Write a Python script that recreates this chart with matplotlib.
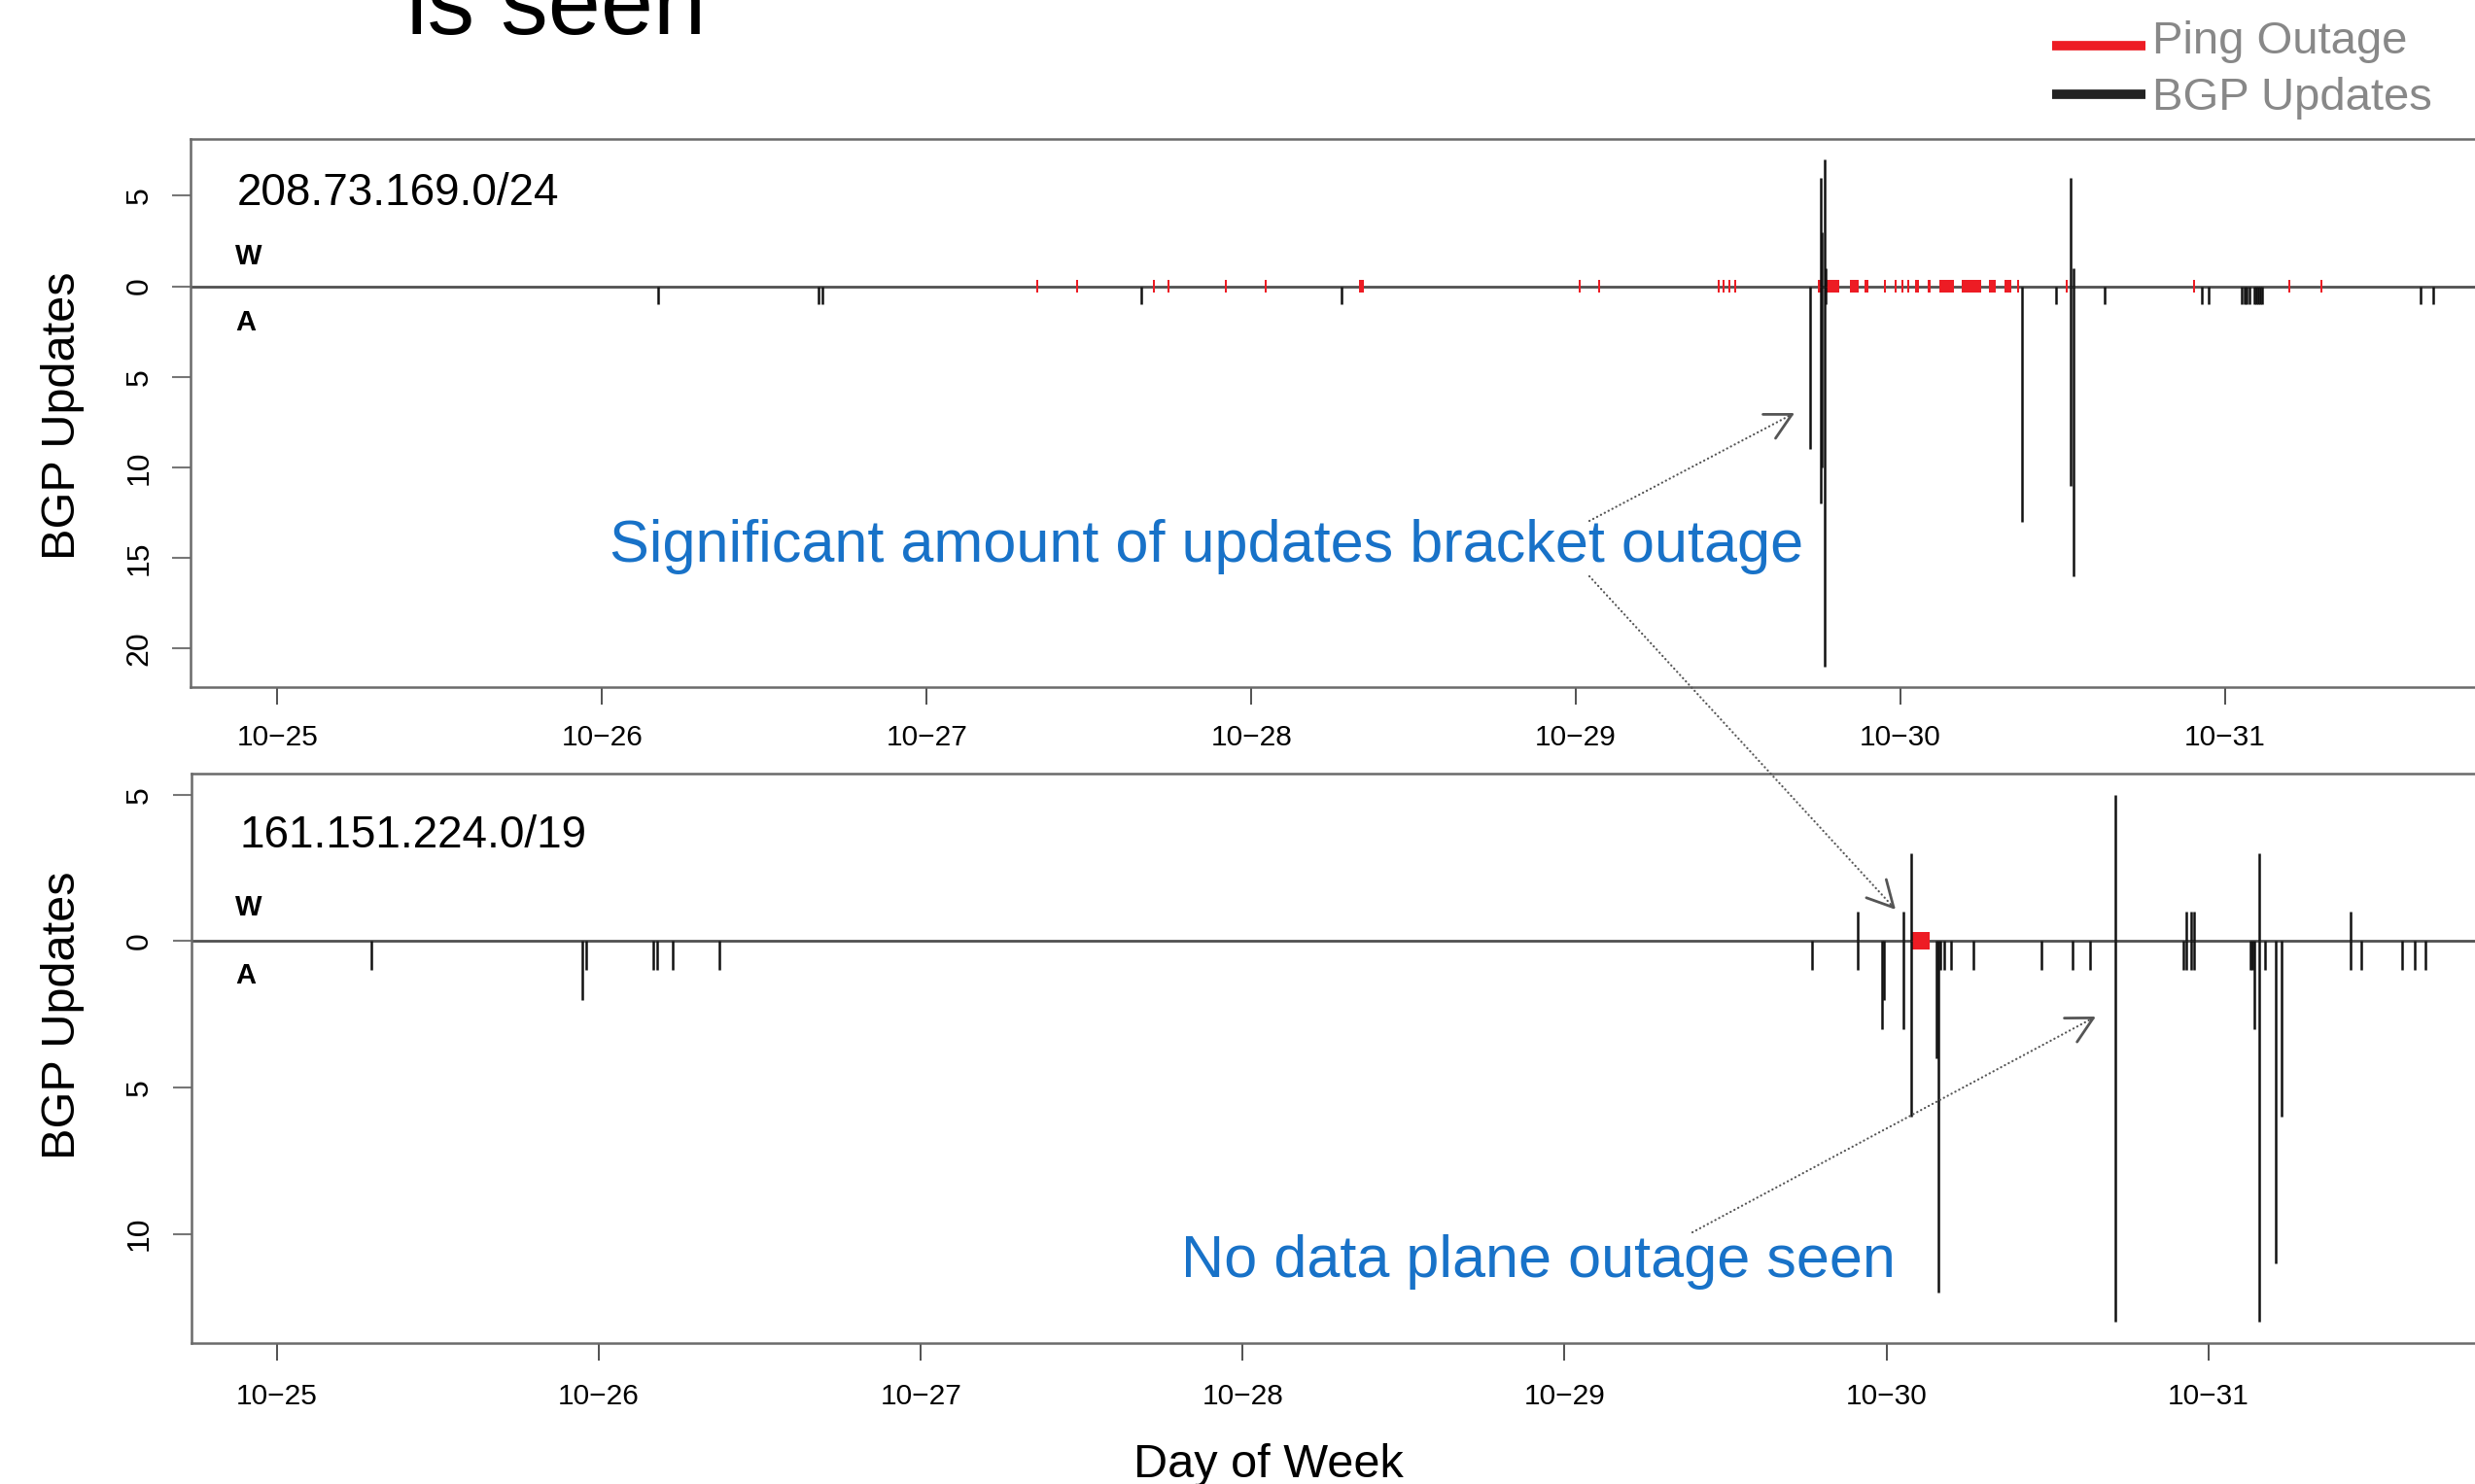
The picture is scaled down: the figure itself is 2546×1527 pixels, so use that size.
import matplotlib
matplotlib.use("Agg")
import matplotlib.pyplot as plt
from matplotlib.lines import Line2D
from matplotlib.patches import FancyArrowPatch
import numpy as np

plt.rcParams['font.family'] = ['Liberation Sans', 'DejaVu Sans']

# ---------------- data (time in days after 10-25 00:00) ----------------
day_ticks = [0, 1, 2, 3, 4, 5, 6]
day_labels = ["10\u221225", "10\u221226", "10\u221227", "10\u221228",
              "10\u221229", "10\u221230", "10\u221231"]

# panel 1 : 208.73.169.0/24
top_prefix = "208.73.169.0/24"
top_times = [1.173, 1.668, 1.680, 2.662, 3.278, 4.722, 4.753, 4.757, 4.765,
             4.769, 5.373, 5.479, 5.524, 5.533, 5.628, 5.928, 5.948, 6.051,
             6.060, 6.067, 6.075, 6.090, 6.096, 6.102, 6.108, 6.114, 6.602,
             6.641]
top_withdrawals = [0, 0, 0, 0, 0, 0, 6, 3, 7, 1, 0, 0, 6, 1, 0, 0, 0, 0,
                   0, 0, 0, 0, 0, 0, 0, 0, 0, 0]
top_announcements = [1, 1, 1, 1, 1, 9, 12, 10, 21, 1, 13, 1, 11, 16, 1, 1,
                     1, 1, 1, 1, 1, 1, 1, 1, 1, 1, 1, 1]
top_outage_start = [2.337, 2.459, 2.697, 2.742, 2.919, 3.041, 3.332, 4.008,
                    4.069, 4.437, 4.452, 4.470, 4.488, 4.745, 4.769, 4.844,
                    4.889, 4.949, 4.982, 5.003, 5.021, 5.044, 5.084, 5.120,
                    5.189, 5.273, 5.320, 5.358, 5.509, 5.901, 6.194, 6.293]
top_outage_dur = [0.007, 0.007, 0.007, 0.007, 0.007, 0.007, 0.015, 0.007,
                  0.007, 0.007, 0.007, 0.007, 0.007, 0.008, 0.041, 0.027,
                  0.011, 0.007, 0.007, 0.007, 0.007, 0.013, 0.010, 0.044,
                  0.059, 0.020, 0.021, 0.007, 0.007, 0.007, 0.007, 0.007]

# panel 2 : 161.151.224.0/19
bot_prefix = "161.151.224.0/19"
bot_times = [0.293, 0.948, 0.960, 1.170, 1.182, 1.229, 1.374, 4.769, 4.911,
             4.986, 4.991, 5.053, 5.078, 5.155, 5.161, 5.168, 5.180, 5.201,
             5.270, 5.482, 5.578, 5.633, 5.711, 5.923, 5.932, 5.947, 5.956,
             6.131, 6.137, 6.143, 6.158, 6.176, 6.209, 6.228, 6.442, 6.475,
             6.602, 6.641, 6.674]
bot_withdrawals = [0, 0, 0, 0, 0, 0, 0, 0, 1, 0, 0, 1, 3, 0, 0, 0, 0, 0, 0,
                   0, 0, 0, 5, 0, 1, 1, 1, 0, 0, 0, 3, 0, 0, 0, 1, 0, 0, 0, 0]
bot_announcements = [1, 2, 1, 1, 1, 1, 1, 1, 1, 3, 2, 3, 6, 4, 12, 1, 1, 1,
                     1, 1, 1, 1, 13, 1, 1, 1, 1, 1, 1, 3, 13, 1, 11, 6, 1, 1,
                     1, 1, 1]
bot_outage_start = [5.081]
bot_outage_dur = [0.054]

top_yticks = [5, 0, -5, -10, -15, -20]
bot_yticks = [5, 0, -5, -10]

# ---------------- figure ----------------
W_PX, H_PX = 2546, 1527
fig = plt.figure(figsize=(W_PX / 100, H_PX / 100), dpi=100)
fig.patch.set_facecolor('white')


def fx(px):
    return px / W_PX


def fy(py):
    return 1 - py / H_PX


RED = '#ED1C24'
BLACK = '#111111'
BLUE = '#1872C8'


def draw_panel(rect, xlim, ylim, times, w, a, ostart, odur, oh, yticks,
               xpad):
    ax = fig.add_axes(rect)
    ax.set_xlim(*xlim)
    ax.set_ylim(*ylim)
    ax.axhline(0, color='#505050', lw=2.0, zorder=1)
    ax.broken_barh(list(zip(ostart, odur)), (-oh, 2 * oh), facecolors=RED,
                   edgecolors='none', zorder=2)
    t = np.array(times)
    wv = np.array(w)
    av = np.array(a)
    m = wv > 0
    ax.vlines(t[m], 0, wv[m], color=BLACK, lw=1.8, zorder=3)
    m = av > 0
    ax.vlines(t[m], -av[m], 0, color=BLACK, lw=1.8, zorder=3)
    for s in ['top', 'left', 'bottom']:
        ax.spines[s].set_color('#6a6a6a')
        ax.spines[s].set_linewidth(1.8)
    ax.spines['right'].set_visible(False)
    ax.set_xticks(day_ticks)
    ax.set_xticklabels(day_labels)
    ax.set_yticks(yticks)
    ax.set_yticklabels([str(abs(v)) for v in yticks])
    ax.tick_params(axis='y', direction='out', length=14, width=1.5,
                   color='#777777', pad=13.5, labelsize=23)
    ax.tick_params(axis='x', direction='out', length=13, width=1.2,
                   color='#333333', pad=xpad, labelsize=21.5)
    for lbl in ax.get_yticklabels():
        lbl.set_rotation(90)
        lbl.set_va('center')
    return ax


# top panel geometry (pixels)
ax1 = draw_panel([fx(196.5), fy(706.7), fx(2600) - fx(196.5),
                  fy(143.3) - fy(706.7)],
                 (-0.2665, 6.9317), (-22.12, 8.12),
                 top_times, top_withdrawals, top_announcements,
                 top_outage_start, top_outage_dur, 0.37, top_yticks, 14.5)
ax2 = draw_panel([fx(196.9), fy(1381.7), fx(2600) - fx(196.9),
                  fy(796) - fy(1381.7)],
                 (-0.2661, 6.9918), (-13.72, 5.72),
                 bot_times, bot_withdrawals, bot_announcements,
                 bot_outage_start, bot_outage_dur, 0.30, bot_yticks, 16.5)


def ftext(x, y, s, **kw):
    kw.setdefault('ha', 'left')
    kw.setdefault('va', 'baseline')
    fig.text(fx(x), fy(y), s, **kw)


# slide title fragment (cut at top)
ftext(418, 35, "is seen", fontsize=70, color='black')

# legend
fig.add_artist(Line2D([fx(2111), fx(2207)], [fy(47), fy(47)],
                      transform=fig.transFigure, color=RED, lw=7,
                      solid_capstyle='butt'))
fig.add_artist(Line2D([fx(2111), fx(2207)], [fy(97), fy(97)],
                      transform=fig.transFigure, color='#222222', lw=7,
                      solid_capstyle='butt'))
ftext(2214, 55, "Ping Outage", fontsize=34, color='#888888')
ftext(2214, 113, "BGP Updates", fontsize=34, color='#888888')

# prefixes and W / A labels
ftext(244, 210.7, top_prefix, fontsize=33, color='black')
ftext(246, 871.7, bot_prefix, fontsize=33, color='black')
ftext(242, 271.7, "W", fontsize=21, fontweight='bold', color='black')
ftext(242, 340, "A", fontsize=21, fontweight='bold', color='black')
ftext(242, 941.7, "W", fontsize=21, fontweight='bold', color='black')
ftext(242, 1011.7, "A", fontsize=21, fontweight='bold', color='black')

# axis titles
ftext(65, 428, "BGP Updates", fontsize=35, rotation=90, ha='center',
      va='center', color='black')
ftext(65, 1045, "BGP Updates", fontsize=35, rotation=90, ha='center',
      va='center', color='black')
ftext(1305, 1520, "Day of Week", fontsize=35, ha='center', color='black')

# annotations
ftext(627, 578, "Significant amount of updates bracket outage", fontsize=44,
      color=BLUE)
ftext(1215, 1314, "No data plane outage seen", fontsize=44, color=BLUE)


def dotted_arrow(x0, y0, x1, y1):
    fig.add_artist(Line2D([fx(x0), fx(x1)], [fy(y0), fy(y1)],
                          transform=fig.transFigure, color='#555555',
                          lw=1.6, ls=(0, (0.1, 1.9)),
                          dash_capstyle='round'))
    dx, dy = x1 - x0, y1 - y0
    n = np.hypot(dx, dy)
    ux, uy = dx / n, dy / n
    fig.add_artist(FancyArrowPatch((fx(x1 - 6 * ux), fy(y1 - 6 * uy)),
                                   (fx(x1), fy(y1)),
                                   transform=fig.transFigure,
                                   arrowstyle='->,head_length=0.95,head_width=0.5',
                                   mutation_scale=20, lw=2.0,
                                   color='#555555', shrinkA=0, shrinkB=0))


dotted_arrow(1635, 536, 1846, 425)
dotted_arrow(1635, 593, 1950, 936)
dotted_arrow(1741, 1268, 2156, 1046)

fig.savefig("out.png", dpi=100, facecolor='white')
